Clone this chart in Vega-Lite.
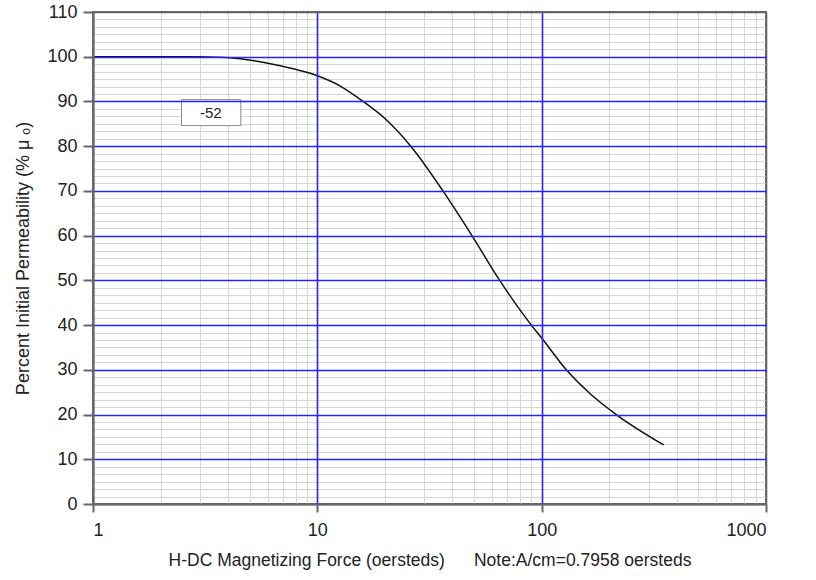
{
  "$schema": "https://vega.github.io/schema/vega-lite/v6.json",
  "width": 673,
  "height": 492,
  "autosize": "none",
  "padding": {"left": 93, "top": 12, "right": 50, "bottom": 76},
  "background": "white",
  "config": {
    "view": {"stroke": "#666", "strokeWidth": 2},
    "font": "Liberation Sans",
    "axis": {"labelColor": "#222", "titleColor": "#222", "titleFontWeight": "normal"}
  },
  "resolve": {"axis": {"x": "independent", "y": "independent"}},
  "layer": [
    {
      "data": {"values": [{"x0": 2.48, "x1": 4.56, "y0": 84.6, "y1": 90.4}]},
      "mark": {"type": "rect", "fill": "white", "stroke": "#888", "strokeWidth": 1, "zindex": 2},
      "encoding": {
        "x": {
          "field": "x0", "type": "quantitative",
          "scale": {"type": "log", "domain": [1, 1000]},
          "axis": {
            "orient": "top", "title": null, "labels": false, "ticks": false, "domain": false,
            "grid": true, "gridColor": "#d6d6d6", "gridWidth": 1, "zindex": 0,
            "values": [2, 3, 4, 5, 6, 7, 8, 9, 20, 30, 40, 50, 60, 70, 80, 90, 200, 300, 400, 500, 600, 700, 800, 900]
          }
        },
        "x2": {"field": "x1"},
        "y": {
          "field": "y0", "type": "quantitative",
          "scale": {"domain": [0, 110]},
          "axis": {
            "orient": "right", "title": null, "labels": false, "ticks": false, "domain": false,
            "grid": true, "gridColor": "#d6d6d6", "gridWidth": 1, "zindex": 0,
            "values": [1.667, 3.333, 5, 6.667, 8.333, 11.667, 13.333, 15, 16.667, 18.333, 21.667, 23.333, 25, 26.667, 28.333, 31.667, 33.333, 35, 36.667, 38.333, 41.667, 43.333, 45, 46.667, 48.333, 51.667, 53.333, 55, 56.667, 58.333, 61.667, 63.333, 65, 66.667, 68.333, 71.667, 73.333, 75, 76.667, 78.333, 81.667, 83.333, 85, 86.667, 88.333, 91.667, 93.333, 95, 96.667, 98.333, 101.667, 103.333, 105, 106.667, 108.333]
          }
        },
        "y2": {"field": "y1"}
      }
    },
    {
      "data": {"values": [{"x": 3.35, "y": 87.5, "label": "-52"}]},
      "mark": {"type": "text", "fontSize": 15, "color": "#222", "font": "Liberation Sans", "zindex": 3},
      "encoding": {
        "x": {"field": "x", "type": "quantitative", "scale": {"type": "log", "domain": [1, 1000]}, "axis": null},
        "y": {"field": "y", "type": "quantitative", "scale": {"domain": [0, 110]}, "axis": null},
        "text": {"field": "label"}
      }
    },
    {
      "data": {
        "values": [
          {"H": 1, "mu": 100},
          {"H": 2, "mu": 100},
          {"H": 2.9, "mu": 100},
          {"H": 3.68, "mu": 99.9},
          {"H": 4.52, "mu": 99.55},
          {"H": 5.94, "mu": 98.6},
          {"H": 7.8, "mu": 97.3},
          {"H": 10, "mu": 95.75},
          {"H": 12.6, "mu": 93.5},
          {"H": 16, "mu": 90},
          {"H": 20, "mu": 86.2},
          {"H": 26.1, "mu": 80},
          {"H": 36.3, "mu": 70},
          {"H": 48.9, "mu": 60},
          {"H": 65, "mu": 50},
          {"H": 89.9, "mu": 40},
          {"H": 100, "mu": 37.1},
          {"H": 128.8, "mu": 30},
          {"H": 165, "mu": 24.6},
          {"H": 215, "mu": 20},
          {"H": 350, "mu": 13.2}
        ]
      },
      "mark": {"type": "line", "color": "#111", "strokeWidth": 1.5, "interpolate": "monotone", "zindex": 2},
      "encoding": {
        "x": {
          "field": "H", "type": "quantitative",
          "scale": {"type": "log", "domain": [1, 1000]},
          "axis": {
            "orient": "bottom", "zindex": 1,
            "title": "H-DC Magnetizing Force (oersteds)\u00a0\u00a0\u00a0\u00a0\u00a0 Note:A/cm=0.7958 oersteds",
            "titleFontSize": 17.5, "titlePadding": 12,
            "values": [1, 10, 100, 1000], "format": "d",
            "labelFontSize": 18, "labelPadding": 9,
            "tickSize": 8, "tickColor": "#666", "tickWidth": 2,
            "domainColor": "#666", "domainWidth": 2,
            "grid": true, "gridWidth": 1.6,
            "gridColor": {"condition": {"test": "datum.value === 1 || datum.value === 1000", "value": "#666"}, "value": "#2424ff"}
          }
        },
        "y": {
          "field": "mu", "type": "quantitative",
          "scale": {"domain": [0, 110]},
          "axis": {
            "orient": "left", "zindex": 1,
            "title": "Percent Initial Permeability (% \u03bc \u2092)",
            "titleFontSize": 18, "titlePadding": 14,
            "values": [0, 10, 20, 30, 40, 50, 60, 70, 80, 90, 100, 110],
            "labelFontSize": 18, "labelPadding": 6,
            "tickSize": 10, "tickColor": "#666", "tickWidth": 2,
            "domainColor": "#666", "domainWidth": 2,
            "grid": true, "gridWidth": 1.6,
            "gridColor": {"condition": {"test": "datum.value === 0 || datum.value === 110", "value": "#666"}, "value": "#2424ff"}
          }
        }
      }
    }
  ]
}
